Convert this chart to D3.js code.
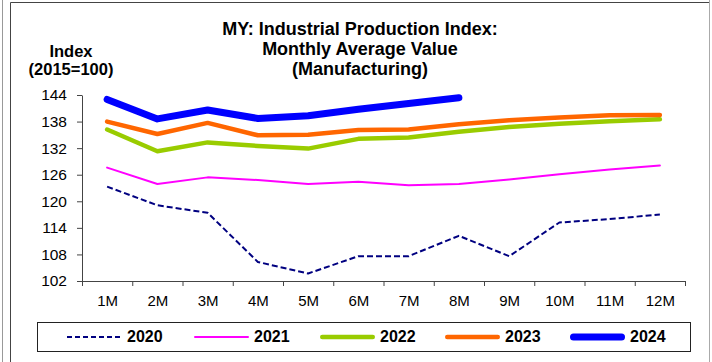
<!DOCTYPE html>
<html>
<head>
<meta charset="utf-8">
<script src="https://cdn.jsdelivr.net/npm/d3@7/dist/d3.min.js"></script>
<style>
  html, body { margin: 0; padding: 0; background: #fff; }
  svg { display: block; font-family: "Liberation Sans", Arial, sans-serif; }
</style>
</head>
<body>
<svg id="chart" width="712" height="362"></svg>
<script>
// Months on the category axis
const months = ["1M","2M","3M","4M","5M","6M","7M","8M","9M","10M","11M","12M"];
// Y-axis tick values
const yTicks = [102, 108, 114, 120, 126, 132, 138, 144];

// Manufacturing production index (2015=100), one array per year
const y2020 = [123.3, 119.1, 117.4, 106.3, 103.7, 107.6, 107.6, 112.2, 107.6, 115.2, 116.0, 117.0];
const y2021 = [127.6, 123.9, 125.4, 124.8, 123.9, 124.4, 123.6, 123.9, 124.9, 126.1, 127.2, 128.1];
const y2022 = [136.2, 131.3, 133.3, 132.5, 131.9, 134.1, 134.4, 135.7, 136.8, 137.5, 138.1, 138.5];
const y2023 = [138.0, 135.2, 137.7, 134.9, 135.0, 136.1, 136.2, 137.4, 138.3, 138.9, 139.4, 139.5];
const y2024 = [143.0, 138.6, 140.6, 138.7, 139.3, 140.8, 142.1, 143.4];

const seriesNames = ["2020", "2021", "2022", "2023", "2024"];
const seriesValues = [y2020, y2021, y2022, y2023, y2024];

// Visual style per series
const styles = {
  "2020": { color: "#000080", width: 2,   dash: "6,3" },
  "2021": { color: "#FF00FF", width: 2,   dash: null },
  "2022": { color: "#99CC00", width: 4.5, dash: null },
  "2023": { color: "#FF6600", width: 4.5, dash: null },
  "2024": { color: "#0000FF", width: 7,   dash: null }
};

const svg = d3.select("#chart");

// Frame lines around the chart area
svg.append("line").attr("x1", 2.5).attr("x2", 2.5).attr("y1", 0).attr("y2", 362)
  .attr("stroke", "#999").attr("stroke-width", 1);
svg.append("line").attr("x1", 10.5).attr("x2", 10.5).attr("y1", 2.5).attr("y2", 362)
  .attr("stroke", "#444").attr("stroke-width", 1);
svg.append("line").attr("x1", 10.5).attr("x2", 709.5).attr("y1", 2.5).attr("y2", 2.5)
  .attr("stroke", "#444").attr("stroke-width", 1);
svg.append("line").attr("x1", 709.5).attr("x2", 709.5).attr("y1", 0).attr("y2", 362)
  .attr("stroke", "#aaa").attr("stroke-width", 1);

// Title
const title = svg.append("text")
  .attr("text-anchor", "middle")
  .attr("font-size", 18).attr("font-weight", "bold").attr("fill", "#000");
["MY: Industrial Production Index:", "Monthly Average Value", "(Manufacturing)"].forEach((t, i) => {
  title.append("tspan").attr("x", 360).attr("y", 35 + i * 20).text(t);
});

// Y-axis unit label
const unit = svg.append("text")
  .attr("text-anchor", "middle")
  .attr("font-size", 16.5).attr("font-weight", "bold").attr("fill", "#000");
unit.append("tspan").attr("x", 71).attr("y", 56.5).text("Index");
unit.append("tspan").attr("x", 71).attr("y", 75).text("(2015=100)");

// Scales
const plotLeft = 82, plotRight = 685, plotTop = 95, plotBottom = 281;
const xBand = d3.scaleBand().domain(months).range([plotLeft, plotRight]).padding(0);
const xPt = d3.scalePoint().domain(months).range([plotLeft, plotRight]).padding(0.5);
const y = d3.scaleLinear().domain([102, 144]).range([plotBottom, plotTop]);

const axisColor = "#444";

// Y axis
const yAxis = svg.append("g")
  .attr("transform", `translate(${plotLeft},0)`)
  .call(d3.axisLeft(y).tickValues(yTicks).tickSize(5).tickSizeOuter(0).tickPadding(10)
    .tickFormat(d3.format("d")));
yAxis.selectAll("text").attr("font-size", 15.5).attr("fill", "#000")
  .attr("font-family", "'Liberation Sans', Arial, sans-serif");

// X axis: boundary ticks between months, labels centred on each month
const xTickScale = d3.scaleLinear().domain([0, months.length]).range([plotLeft, plotRight]);
const xAxis = svg.append("g")
  .attr("transform", `translate(0,${plotBottom})`)
  .call(d3.axisBottom(xTickScale).tickValues(d3.range(0, months.length + 1))
    .tickSize(5).tickSizeOuter(0).tickFormat(""));
const xLabels = svg.append("g")
  .attr("transform", `translate(0,${plotBottom})`)
  .call(d3.axisBottom(xPt).tickSize(0).tickPadding(14));
xLabels.select(".domain").remove();
xLabels.selectAll("text").attr("font-size", 15).attr("fill", "#000")
  .attr("font-family", "'Liberation Sans', Arial, sans-serif");

svg.selectAll(".domain, .tick line").attr("stroke", axisColor);

// Series lines
const line = d3.line()
  .x((d, i) => xPt(months[i]))
  .y(d => y(d));

seriesNames.forEach((name, k) => {
  const s = styles[name];
  svg.append("path")
    .datum(seriesValues[k])
    .attr("d", line)
    .attr("fill", "none")
    .attr("stroke", s.color)
    .attr("stroke-width", s.width)
    .attr("stroke-linejoin", "round")
    .attr("stroke-linecap", s.dash ? "butt" : "round")
    .attr("stroke-dasharray", s.dash);
});

// Legend
const legend = svg.append("g");
legend.append("rect")
  .attr("x", 37.5).attr("y", 322.5).attr("width", 653).attr("height", 29)
  .attr("fill", "#fff").attr("stroke", "#222").attr("stroke-width", 1);

const legendX = [67, 194, 320, 445, 570];
seriesNames.forEach((name, k) => {
  const s = styles[name];
  const x0 = legendX[k];
  legend.append("line")
    .attr("x1", x0 + (s.dash ? 0 : s.width / 2)).attr("x2", x0 + 55 - (s.dash ? 0 : s.width / 2))
    .attr("y1", 337).attr("y2", 337)
    .attr("stroke", s.color)
    .attr("stroke-width", s.width)
    .attr("stroke-linecap", s.dash ? "butt" : "round")
    .attr("stroke-dasharray", s.dash ? "5,3" : null);
  legend.append("text")
    .attr("x", x0 + 60).attr("y", 342)
    .attr("font-size", 16).attr("font-weight", "bold").attr("fill", "#000")
    .text(name);
});
</script>
</body>
</html>
